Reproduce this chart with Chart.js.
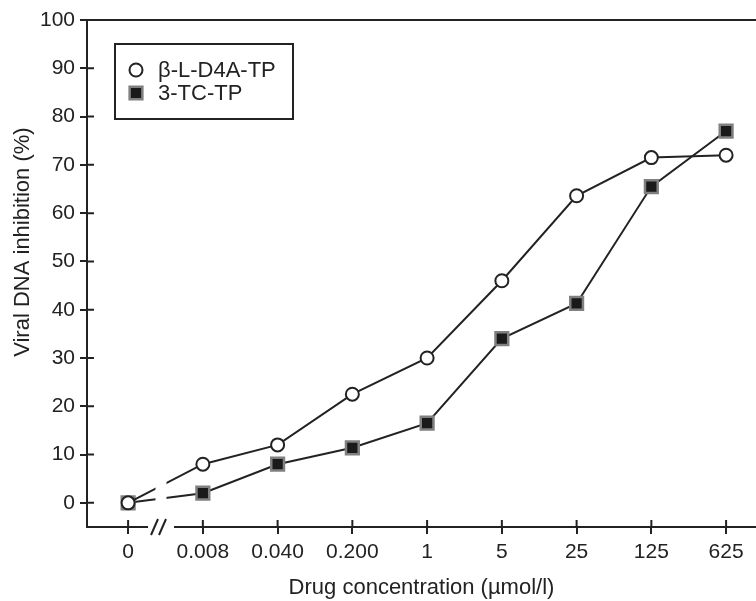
<!DOCTYPE html>
<html>
<head>
<meta charset="utf-8">
<script src="https://cdn.jsdelivr.net/npm/chart.js@4.4.1/dist/chart.umd.min.js"></script>
<style>
  html, body { margin: 0; padding: 0; background: #fff; }
  #wrap { width: 756px; height: 601px; }
</style>
</head>
<body>
<div id="wrap"><canvas id="chart"></canvas></div>
<script>
// values
const xLabels = ['0', '0.008', '0.040', '0.200', '1', '5', '25', '125', '625'];
const d4aValues = [0, 8, 12, 22.5, 30, 46, 63.6, 71.5, 72];
const tcValues = [0, 2, 8, 11.4, 16.5, 34, 41.3, 65.5, 77];
const yTickValues = [0, 10, 20, 30, 40, 50, 60, 70, 80, 90, 100];
const seriesNames = ['\u03b2-L-D4A-TP', '3-TC-TP'];
const yTitle = 'Viral DNA inhibition (%)';

const FONT = '"Liberation Sans", Arial, sans-serif';
const INK = '#222';

function toPoints(vals) {
    return vals.map((v, i) => ({ x: i, y: v }));
}

// inner half of the crossing tick marks, top frame line, axis break, y title and legend box
const extrasPlugin = {
    id: 'extras',
    afterDatasetsDraw(chart) {
        const ctx = chart.ctx;
        const a = chart.chartArea;
        const xs = chart.scales.x, ys = chart.scales.y;
        ctx.save();
        ctx.strokeStyle = INK;
        ctx.lineWidth = 2;

        // inner ticks
        ctx.beginPath();
        ys.ticks.forEach(t => {
            const y = ys.getPixelForValue(t.value);
            ctx.moveTo(a.left, y); ctx.lineTo(a.left + 7, y);
        });
        xs.ticks.forEach(t => {
            const x = xs.getPixelForValue(t.value);
            ctx.moveTo(x, a.bottom); ctx.lineTo(x, a.bottom - 7);
        });
        // top frame
        ctx.moveTo(a.left - 1, a.top); ctx.lineTo(a.right, a.top);
        ctx.stroke();

        // axis break between 0 and 0.008
        const bx = xs.getPixelForValue(0.44);
        ctx.fillStyle = '#fff';
        ctx.fillRect(bx - 5.5, a.top + 2, 11, a.bottom - a.top - 12);
        ctx.fillRect(bx - 13, a.bottom - 4, 26, 8);
        ctx.beginPath();
        ctx.moveTo(bx - 10, a.bottom + 8); ctx.lineTo(bx - 3, a.bottom - 8);
        ctx.moveTo(bx - 2, a.bottom + 8); ctx.lineTo(bx + 5, a.bottom - 8);
        ctx.stroke();

        // y axis title, sits a little above the middle of the axis
        ctx.save();
        ctx.translate(23, a.top + (a.bottom - a.top) * 0.438);
        ctx.rotate(-Math.PI / 2);
        ctx.font = '22px ' + FONT;
        ctx.fillStyle = INK;
        ctx.textAlign = 'center';
        ctx.textBaseline = 'middle';
        ctx.fillText(yTitle, 0, 0);
        ctx.restore();

        // legend
        const lx = a.left + 28, ly = a.top + 24;
        ctx.strokeStyle = INK;
        ctx.lineWidth = 2;
        ctx.strokeRect(lx, ly, 178, 75);
        ctx.font = '22px ' + FONT;
        ctx.textBaseline = 'middle';
        chart.data.datasets.forEach((ds, i) => {
            const cy = ly + 26 + i * 23;
            ctx.fillStyle = ds.pointBackgroundColor;
            ctx.strokeStyle = ds.pointBorderColor;
            ctx.lineWidth = ds.pointBorderWidth;
            ctx.beginPath();
            if (ds.pointStyle === 'rect') {
                const s = ds.pointRadius * Math.SQRT1_2;
                ctx.rect(lx + 21 - s, cy - s, 2 * s, 2 * s);
            } else {
                ctx.arc(lx + 21, cy, ds.pointRadius, 0, Math.PI * 2);
            }
            ctx.fill();
            ctx.stroke();
            ctx.fillStyle = INK;
            ctx.fillText(ds.label, lx + 43, cy + 1);
        });
        ctx.restore();
    }
};

const ctx = document.getElementById('chart').getContext('2d');
new Chart(ctx, {
    type: 'line',
    data: {
        datasets: [
            {
                label: seriesNames[0],
                data: toPoints(d4aValues),
                borderColor: INK,
                borderWidth: 2,
                pointStyle: 'circle',
                pointRadius: 6.5,
                pointBackgroundColor: '#fff',
                pointBorderColor: INK,
                pointBorderWidth: 2
            },
            {
                label: seriesNames[1],
                data: toPoints(tcValues),
                borderColor: INK,
                borderWidth: 2,
                pointStyle: 'rect',
                pointRadius: 9,
                pointBackgroundColor: '#1a1a1a',
                pointBorderColor: '#808080',
                pointBorderWidth: 2.5
            }
        ]
    },
    options: {
        responsive: true,
        maintainAspectRatio: false,
        animation: false,
        clip: false,
        layout: { autoPadding: false, padding: { top: 20, right: 0, bottom: 0, left: 0 } },
        plugins: {
            legend: { display: false },
            tooltip: { enabled: false }
        },
        scales: {
            x: {
                type: 'linear',
                min: -0.55,
                max: 8.4,
                afterBuildTicks: s => { s.ticks = xLabels.map((_, i) => ({ value: i })); },
                afterFit: s => { s.height = 74; s.paddingLeft = 0; s.paddingRight = 0; },
                border: { display: true, color: INK, width: 2 },
                grid: { drawOnChartArea: false, tickLength: 7, color: INK, lineWidth: 2 },
                ticks: {
                    padding: 6,
                    color: INK,
                    font: { family: FONT, size: 21 },
                    maxRotation: 0,
                    callback: v => xLabels[v]
                },
                title: {
                    display: true,
                    text: 'Drug concentration (\u00b5mol/l)',
                    color: INK,
                    font: { family: FONT, size: 22 },
                    padding: { top: 0, bottom: 0 }
                }
            },
            y: {
                min: -5,
                max: 100,
                afterBuildTicks: s => { s.ticks = yTickValues.map(v => ({ value: v })); },
                afterFit: s => { s.width = 87; s.paddingTop = 0; s.paddingBottom = 0; },
                border: { display: true, color: INK, width: 2 },
                grid: { drawOnChartArea: false, tickLength: 7, color: INK, lineWidth: 2 },
                ticks: {
                    padding: 5,
                    color: INK,
                    font: { family: FONT, size: 21 }
                },
                title: { display: false }
            }
        }
    },
    plugins: [extrasPlugin]
});
</script>
</body>
</html>
